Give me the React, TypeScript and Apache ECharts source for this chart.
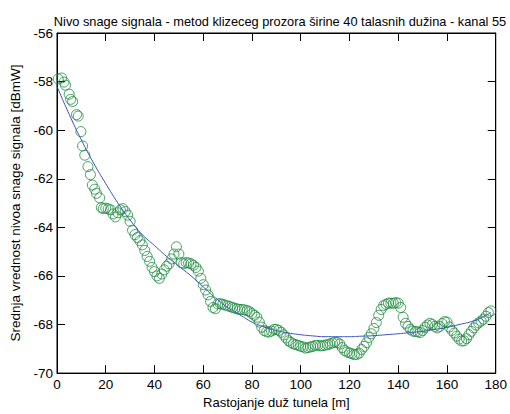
import React, { useEffect, useRef } from "react";
import * as echarts from "echarts";

const titleText = "Nivo snage signala - metod klizeceg prozora širine 40 talasnih dužina - kanal 55";
const xName = "Rastojanje duž tunela [m]";
const yName = "Srednja vrednost nivoa snage signala [dBmW]";

const measX = [
  0.5, 1.9, 2.9, 3.5, 5.0, 5.6, 6.4, 8.0, 8.7, 9.8, 10.5, 11.4, 12.7, 13.7, 14.5, 15.5, 16.2, 17.5, 18.2,
  19, 20, 21, 22, 23, 24, 25, 26, 27, 28, 29, 30, 31, 32, 33, 34, 35, 36, 37, 38, 39,
  40, 41, 42, 43, 44, 45, 46, 47, 48, 49, 50, 51, 52, 53, 54, 55, 56, 57, 58, 59,
  60, 61, 62, 63, 64, 65, 66, 67, 68, 69, 70, 71, 72, 73, 74, 75, 76, 77, 78, 79,
  80, 81, 82, 83, 84, 85, 86, 87, 88, 89, 90, 91, 92, 93, 94, 95, 96, 97, 98, 99,
  100, 101, 102, 103, 104, 105, 106, 107, 108, 109, 110, 111, 112, 113, 114, 115, 116, 117, 118, 119,
  120, 121, 122, 123, 124, 125, 126, 127, 128, 129, 130, 131, 132, 133, 134, 135, 136, 137, 138, 139,
  140, 141, 142, 143, 144, 145, 146, 147, 148, 149, 150, 151, 152, 153, 154, 155, 156, 157, 158, 159,
  160, 161, 162, 163, 164, 165, 166, 167, 168, 169, 170, 171, 172, 173, 174, 175, 176, 177, 178,
];
const measY = [
  -57.89, -57.85, -58.02, -58.15, -58.52, -58.73, -58.82, -59.36, -59.42, -60.06, -60.65, -61.03, -61.5, -61.83, -62.26, -62.43, -62.6, -62.79, -63.19,
  -63.23, -63.21, -63.24, -63.28, -63.45, -63.57, -63.4, -63.28, -63.23, -63.35, -63.5, -63.75, -64.12, -64.3, -64.42, -64.55, -64.72, -64.95, -65.2, -65.4, -65.65,
  -65.82, -66.0, -66.1, -65.92, -65.75, -65.6, -65.5, -65.3, -65.1, -64.8, -65.1, -65.45, -65.5, -65.45, -65.47, -65.5, -65.56, -65.65, -65.8, -66.1,
  -66.36, -66.58, -66.78, -67.05, -67.3, -67.35, -67.15, -67.14, -67.17, -67.2, -67.23, -67.26, -67.3, -67.33, -67.36, -67.38, -67.38, -67.4, -67.43, -67.47,
  -67.55, -67.62, -67.7, -67.9, -68.11, -68.25, -68.3, -68.31, -68.27, -68.2, -68.2, -68.24, -68.32, -68.43, -68.55, -68.67, -68.74, -68.8, -68.83, -68.86,
  -68.9, -68.92, -68.97, -68.95, -68.92, -68.9, -68.86, -68.86, -68.88, -68.87, -68.85, -68.83, -68.8, -68.76, -68.73, -68.74, -68.8, -68.95, -69.07, -69.13,
  -69.17, -69.2, -69.24, -69.23, -69.18, -69.03, -68.9, -68.75, -68.53, -68.38, -68.16, -67.92, -67.62, -67.38, -67.22, -67.17, -67.12, -67.12, -67.13, -67.1,
  -67.12, -67.3, -67.7, -67.95, -68.08, -68.2, -68.27, -68.29, -68.3, -68.33, -68.25, -68.12, -68.02, -67.95, -68.0, -68.08, -68.14, -68.08, -67.96, -67.88,
  -67.9, -68.1, -68.24, -68.35, -68.48, -68.6, -68.68, -68.67, -68.58, -68.42, -68.28, -68.14, -68.02, -67.93, -67.86, -67.78, -67.66, -67.51, -67.44,
];

const fitX = [0, 5, 10, 15, 20, 25, 30, 35, 40, 45, 50, 55, 60, 65, 70, 75, 80, 85, 90, 95, 100, 105, 110, 115, 120, 125, 130, 135, 140, 145, 150, 155, 160, 165, 170, 175, 178];
const fitY = [
  -58.2, -59.35, -60.4, -61.35, -62.2, -63.0, -63.7, -64.3, -64.75, -65.2, -65.6, -66.0, -66.45, -66.9, -67.3, -67.6, -67.9, -68.1, -68.25, -68.35,
  -68.42, -68.47, -68.5, -68.5, -68.5, -68.48, -68.46, -68.42, -68.38, -68.33, -68.28, -68.2, -68.12, -68.0, -67.88, -67.68, -67.5,
];

const FONT = "'Liberation Sans', Arial, sans-serif";

function mkAxis(position: string, min: number, max: number, interval: number, withLabel: boolean) {
  return {
    type: "value",
    gridIndex: 0,
    position,
    min,
    max,
    interval,
    splitLine: { show: false },
    axisLine: { show: true, onZero: false, lineStyle: { color: "#000", width: 1 } },
    axisTick: { show: true, inside: true, length: 8, lineStyle: { color: "#000", width: 1 } },
    axisLabel: withLabel
      ? { show: true, fontSize: 13.5, fontFamily: FONT, color: "#000", margin: 4 }
      : { show: false },
  };
}

export default function App() {
  const ref = useRef<HTMLDivElement>(null);
  useEffect(() => {
    document.body.style.margin = "0";
    const chart = echarts.init(ref.current!, null, { renderer: "svg" });
    chart.setOption({
      animation: false,
      backgroundColor: "#fff",
      title: {
        text: titleText,
        left: 275,
        textAlign: "center",
        top: 10,
        textStyle: { fontSize: 12.8, fontWeight: "normal", fontFamily: FONT, color: "#000" },
      },
      grid: { left: 57, right: 11, top: 33, bottom: 32, show: true, borderColor: "#000", borderWidth: 1, backgroundColor: "transparent" },
      xAxis: [
        {
          ...mkAxis("bottom", 0, 180, 20, true),
          name: xName,
          nameLocation: "middle",
          nameGap: 20,
          nameTextStyle: { fontSize: 13, fontFamily: FONT, color: "#000" },
        },
        mkAxis("top", 0, 180, 20, false),
      ],
      yAxis: [
        {
          ...mkAxis("left", -70, -56, 2, true),
          name: yName,
          nameLocation: "middle",
          nameGap: 32,
          nameTextStyle: { fontSize: 13.5, fontFamily: FONT, color: "#000" },
        },
        mkAxis("right", -70, -56, 2, false),
      ],
      series: [
        {
          type: "scatter",
          xAxisIndex: 0,
          yAxisIndex: 0,
          data: measX.map((x, i) => [x, measY[i]]),
          symbol: "circle",
          symbolSize: 10,
          itemStyle: { color: "rgba(0,0,0,0)", borderColor: "#1a8a3c", borderWidth: 1 },
          z: 2,
        },
        {
          type: "line",
          xAxisIndex: 0,
          yAxisIndex: 0,
          data: fitX.map((x, i) => [x, fitY[i]]),
          showSymbol: false,
          smooth: true,
          lineStyle: { color: "#3a50c0", width: 1 },
          z: 3,
        },
      ],
    });
    return () => chart.dispose();
  }, []);
  return <div ref={ref} style={{ position: "absolute", left: 0, top: 0, width: 510, height: 414 }} />;
}
